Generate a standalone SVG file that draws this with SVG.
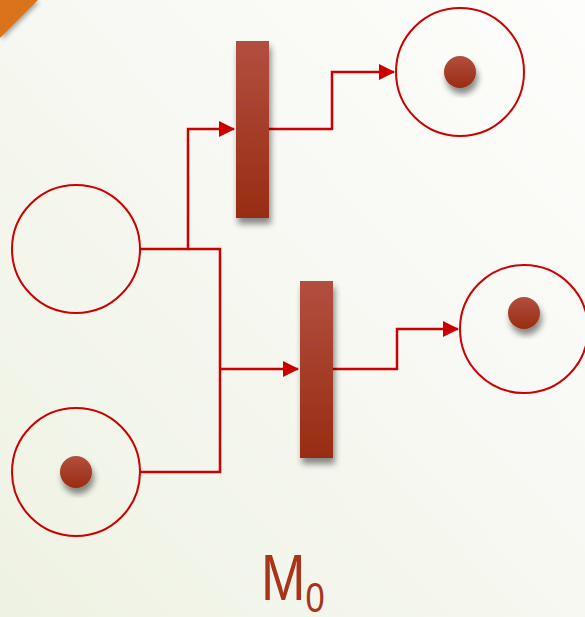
<svg xmlns="http://www.w3.org/2000/svg" width="585" height="617" viewBox="0 0 585 617">
<defs>
<linearGradient id="bg" x1="0" y1="1" x2="1" y2="0">
<stop offset="0" stop-color="#eef2e2"/>
<stop offset="0.6" stop-color="#f8f9f4"/>
<stop offset="1" stop-color="#fdfdfb"/>
</linearGradient>
<linearGradient id="bar" x1="0" y1="0" x2="0" y2="1">
<stop offset="0" stop-color="#b24f40"/>
<stop offset="1" stop-color="#982c12"/>
</linearGradient>
<filter id="sh" x="-50%" y="-20%" width="200%" height="150%">
<feDropShadow dx="2" dy="6" stdDeviation="3" flood-color="#000" flood-opacity="0.45"/>
</filter>
<filter id="tsh" x="-30%" y="-30%" width="180%" height="180%">
<feDropShadow dx="2" dy="2" stdDeviation="2" flood-color="#888" flood-opacity="0.7"/>
</filter>
<marker id="arr" markerWidth="16" markerHeight="16" refX="15" refY="8" orient="auto" markerUnits="userSpaceOnUse">
<path d="M0,0 L16,8 L0,16 Z" fill="#cc0000"/>
</marker>
<style>
.place{fill:none;stroke:#cc0000;stroke-width:2}
.token{fill:url(#bar);filter:url(#sh)}
.trans{fill:url(#bar);filter:url(#sh)}
.conn{fill:none;stroke:#cc0000;stroke-width:2.5}
.lbl{font-family:"Liberation Sans",Arial,sans-serif;fill:#a8341c}
</style>
</defs>
<rect x="0" y="0" width="585" height="617" fill="url(#bg)"/>
<polygon points="0,0 38,0 0,38" fill="#d9731c" filter="url(#tsh)"/>

<g id="connectors">
<path class="conn" d="M140,249 H188 V129 H234" marker-end="url(#arr)"/>
<path class="conn" d="M188,249 H220 V472 H140"/>
<path class="conn" d="M220,369 H298" marker-end="url(#arr)"/>
<path class="conn" d="M269,129 H332 V72 H394" marker-end="url(#arr)"/>
<path class="conn" d="M333,369 H397 V329 H458" marker-end="url(#arr)"/>
</g>

<g id="p1"><circle class="place" cx="76" cy="249" r="64"/></g>
<g id="p2"><circle class="place" cx="76" cy="472" r="64"/><circle class="token" cx="76" cy="472" r="16"/></g>
<g id="p3"><circle class="place" cx="460" cy="72" r="64"/><circle class="token" cx="460" cy="72" r="16"/></g>
<g id="p4"><circle class="place" cx="524" cy="329" r="64"/><circle class="token" cx="524" cy="313" r="16"/></g>
<g id="t1"><rect class="trans" x="236" y="41" width="33" height="177"/></g>
<g id="t2"><rect class="trans" x="300" y="281" width="33" height="177"/></g>

<g id="label">
<text class="lbl" transform="translate(261,600) scale(0.82,1)"><tspan font-size="65">M</tspan><tspan font-size="42" dy="12">0</tspan></text>
</g>
</svg>
